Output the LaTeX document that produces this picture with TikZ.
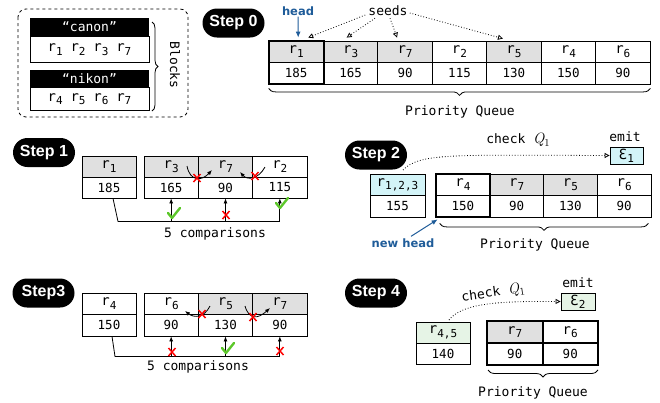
\documentclass[tikz,border=0pt]{standalone}
\usepackage{fontspec}
\setmonofont{DejaVu Sans Mono}
\setsansfont{DejaVu Sans}
\newfontfamily\stepfont{Liberation Sans}
\usetikzlibrary{arrows.meta,decorations.pathreplacing,calc}
\definecolor{cellgray}{HTML}{E0E0E0}
\definecolor{cellcyan}{HTML}{D3F4F8}
\definecolor{cellgreen}{HTML}{E6F4E6}
\definecolor{headblue}{HTML}{1F5C99}
\definecolor{okgreen}{HTML}{5CC72A}
\newcommand\rr[1]{{\fontsize{14}{16}\selectfont r}\raisebox{-0.5ex}{\fontsize{11}{12}\selectfont #1}}
\newcommand\epsub[1]{{\fontsize{14}{16}\selectfont Ɛ}\raisebox{-0.5ex}{\fontsize{11}{12}\selectfont #1}}
\newcommand\qone{{\rmfamily\itshape\fontsize{15}{16}\selectfont Q}\raisebox{-0.4ex}{\rmfamily\fontsize{10.5}{11}\selectfont 1}}
\begin{document}
\begin{tikzpicture}[x=1pt,y=-1pt,
  cell/.style={draw,line width=0.8pt,inner sep=0pt,font=\ttfamily\fontsize{12.5}{14}\selectfont},
  mono/.style={inner sep=1pt,font=\ttfamily\fontsize{13}{15}\selectfont},
  steppill/.style={fill=black,text=white,rounded corners=14.5pt,minimum height=29pt,minimum width=62pt,inner sep=0pt,font=\stepfont\bfseries\fontsize{16}{18}\selectfont},
  headlbl/.style={inner sep=1pt,text=headblue,font=\sffamily\bfseries\fontsize{11.5}{13}\selectfont},
  seedarrow/.style={dotted,line width=0.8pt,-{Triangle[open,length=5pt,width=5pt]}},
  bracestyle/.style={decorate,decoration={brace,amplitude=7pt},line width=0.8pt},
  cmparrow/.style={line width=0.8pt,-{Latex[length=5pt,width=4pt]}},
  redx/.pic={\draw[red,line width=1.5pt] (-3.5,-4)--(3.5,4) (-3.5,4)--(3.5,-4);},
  okcheck/.pic={\draw[okgreen,line width=2.4pt,line cap=round,line join=round] (-5,-1)--(-1,4)--(7,-6);}
]
\useasboundingbox (0,0) rectangle (660,402);

% ---------------- Blocks ----------------
\draw[dashed,line width=0.8pt,rounded corners=8pt] (18,9) rectangle (188,117);
\node[fill=black,text=white,minimum width=119pt,minimum height=18pt,inner sep=0pt,font=\ttfamily\fontsize{13}{15}\selectfont] (canonh) at (89.5,27) {“canon”};
\node[draw,line width=0.8pt,minimum width=119pt,minimum height=26pt,inner sep=0pt,anchor=north,font=\ttfamily\fontsize{13}{15}\selectfont] (canonb) at (canonh.south) {\rr{1} \rr{2} \rr{3} \rr{7}};
\node[fill=black,text=white,minimum width=119pt,minimum height=17pt,inner sep=0pt,font=\ttfamily\fontsize{13}{15}\selectfont] (nikonh) at (89.5,78.5) {“nikon”};
\node[draw,line width=0.8pt,minimum width=119pt,minimum height=23pt,inner sep=0pt,anchor=north,font=\ttfamily\fontsize{13}{15}\selectfont] (nikonb) at (nikonh.south) {\rr{4} \rr{5} \rr{6} \rr{7}};
\draw[decorate,decoration={brace,amplitude=6pt},line width=0.8pt] (152,22) -- (152,111);
\node[mono,rotate=-90] (blocks) at (175,65) {Blocks};

% ---------------- Step 0 ----------------
\node[steppill] (st0) at (233.5,23) {Step 0};
\foreach \i/\lab/\val/\fc [count=\k from 0] in {1/1/185/cellgray,2/3/165/cellgray,3/7/90/cellgray,4/2/115/white,5/5/130/cellgray,6/4/150/white,7/6/90/white}{
  \node[cell,fill=\fc,minimum width=54.43pt,minimum height=21.5pt] (s0t\i) at ({269+54.43*(\k+0.5)},51.75) {\rr{\lab}};
  \node[cell,minimum width=54.43pt,minimum height=21.5pt] (s0b\i) at ({269+54.43*(\k+0.5)},73.25) {\val};
}
\draw[line width=2pt] (s0t1.north west) rectangle (s0b1.south east);
\node[headlbl] (head) at (298,11) {head};
\draw[headblue,line width=1pt,-{Latex[length=6pt,width=5pt]}] (head.south) -- ($(s0t1.north)+(2,-3)$);
\node[mono] (seeds) at (388,11) {seeds};
\draw[seedarrow] ($(seeds.west)+(-2,4)$) -- ($(s0t1.north)+(12,-3)$);
\draw[seedarrow] ($(seeds.south)+(-13,1)$) -- ($(s0t2.north)+(-4,-3)$);
\draw[seedarrow] ($(seeds.south)+(2,1)$) -- ($(s0t3.north)+(-8,-3)$);
\draw[seedarrow] ($(seeds.east)+(1,2)$) -- ($(s0t5.north)+(-11,-2)$);
\draw[bracestyle] ($(s0b7.south east)+(0,4)$) -- ($(s0b1.south west)+(0,4)$);
\node[mono] (pq0) at (460,112) {Priority Queue};

% ---------------- Step 1 ----------------
\node[steppill] (st1) at (44,152.5) {Step 1};
\node[cell,fill=cellgray,minimum width=54pt,minimum height=21pt] (s1lt) at (109,166.5) {\rr{1}};
\node[cell,minimum width=54pt,minimum height=21pt] (s1lb) at (109,187.5) {185};
\foreach \i/\lab/\val/\fc [count=\k from 0] in {1/3/165/cellgray,2/7/90/cellgray,3/2/115/white}{
  \node[cell,fill=\fc,minimum width=54.33pt,minimum height=21pt] (s1t\i) at ({144+54.33*(\k+0.5)},166.5) {\rr{\lab}};
  \node[cell,minimum width=54.33pt,minimum height=21pt] (s1b\i) at ({144+54.33*(\k+0.5)},187.5) {\val};
}
\draw[cmparrow] (187,166) .. controls (190,182) and (202,181) .. (212,170);
\pic at (197,178) {redx};
\draw[cmparrow] (265,167) .. controls (258,180) and (247,180) .. (240,172);
\pic at (255,176) {redx};
\coordinate (c1) at ($(s1lb.south)+(9,23)$);
\draw[line width=0.8pt] ($(s1lb.south)+(4,0)$) -- (c1) -- (c1 -| s1b3.south);
\foreach \i in {1,2,3}{\draw[cmparrow] (s1b\i.south |- c1) -- (s1b\i.south);}
\pic at (173,214) {okcheck};
\pic at (226,215) {redx};
\pic at (281,204) {okcheck};
\node[mono] (cmp1) at (215,234) {5 comparisons};

% ---------------- Step 2 ----------------
\node[steppill] (st2) at (376,155) {Step 2};
\node[cell,fill=cellcyan,minimum width=55pt,minimum height=21.5pt] (s2lt) at (397.5,184.75) {\rr{1,2,3}};
\node[cell,minimum width=55pt,minimum height=21.5pt] (s2lb) at (397.5,206.25) {155};
\foreach \i/\lab/\val/\fc [count=\k from 0] in {1/4/150/white,2/7/90/cellgray,3/5/130/cellgray,4/6/90/white}{
  \node[cell,fill=\fc,minimum width=53.75pt,minimum height=21.5pt] (s2t\i) at ({436+53.75*(\k+0.5)},184.75) {\rr{\lab}};
  \node[cell,minimum width=53.75pt,minimum height=21.5pt] (s2b\i) at ({436+53.75*(\k+0.5)},206.25) {\val};
}
\draw[line width=2pt] (s2t1.north west) rectangle (s2b1.south east);
\node[mono] (emit1) at (625,137) {emit};
\node[draw,line width=0.8pt,fill=cellcyan,minimum width=33pt,minimum height=17pt,inner sep=0pt,font=\ttfamily] (eps1) at (626.5,155.5) {\epsub{1}};
\node[mono] (chk1) at (518,140) {check \qone};
\draw[seedarrow] (403,170) .. controls (420,153) and (450,155) .. (eps1.west);
\node[headlbl] (newhead) at (403,243) {new head};
\draw[headblue,line width=1pt,-{Latex[length=6pt,width=5pt]}] ($(newhead.north)+(8,-1)$) -- ($(s2b1.south west)+(2,2)$);
\draw[bracestyle] ($(s2b4.south east)+(-3,6)$) -- ($(s2b1.south west)+(4,6)$);
\node[mono] (pq2) at (535,245) {Priority Queue};

% ---------------- Step 3 ----------------
\node[steppill] (st3) at (43.5,293) {Step3};
\node[cell,minimum width=54pt,minimum height=21.5pt] (s3lt) at (109,303.75) {\rr{4}};
\node[cell,minimum width=54pt,minimum height=21.5pt] (s3lb) at (109,325.25) {150};
\foreach \i/\lab/\val/\fc [count=\k from 0] in {1/6/90/white,2/5/130/cellgray,3/7/90/cellgray}{
  \node[cell,fill=\fc,minimum width=54.33pt,minimum height=21.5pt] (s3t\i) at ({144+54.33*(\k+0.5)},303.75) {\rr{\lab}};
  \node[cell,minimum width=54.33pt,minimum height=21.5pt] (s3b\i) at ({144+54.33*(\k+0.5)},325.25) {\val};
}
\draw[cmparrow] (210,306) .. controls (204,318) and (194,318) .. (185,311);
\pic at (202,314) {redx};
\draw[cmparrow] (245,306) .. controls (249,320) and (258,319) .. (270,308);
\pic at (253,317) {redx};
\coordinate (c3) at ($(s3lb.south)+(6,20)$);
\draw[line width=0.8pt] ($(s3lb.south)+(3,0)$) -- (c3) -- (c3 -| s3b3.south);
\foreach \i in {1,2,3}{\draw[cmparrow] (s3b\i.south |- c3) -- (s3b\i.south);}
\pic at (172,352) {redx};
\pic at (227,349) {okcheck};
\pic at (280,351) {redx};
\node[mono] (cmp3) at (198,367) {5 comparisons};

% ---------------- Step 4 ----------------
\node[steppill] (st4) at (376,293) {Step 4};
\node[cell,fill=cellgreen,minimum width=54pt,minimum height=21pt] (s4lt) at (443,332.5) {\rr{4,5}};
\node[cell,minimum width=54pt,minimum height=21pt] (s4lb) at (443,353.5) {140};
\foreach \i/\lab/\val/\fc [count=\k from 0] in {1/7/90/cellgray,2/6/90/white}{
  \node[cell,fill=\fc,line width=2pt,minimum width=55.5pt,minimum height=22pt] (s4t\i) at ({487+55.5*(\k+0.5)},332) {\rr{\lab}};
  \node[cell,line width=2pt,minimum width=55.5pt,minimum height=22pt] (s4b\i) at ({487+55.5*(\k+0.5)},354) {\val};
}
\node[mono] (emit2) at (578,283) {emit};
\node[draw,line width=0.8pt,fill=cellgreen,minimum width=34pt,minimum height=17pt,inner sep=0pt,font=\ttfamily] (eps2) at (578,301.5) {\epsub{2}};
\node[mono,rotate=8] (chk2) at (493,293) {check \qone};
\draw[seedarrow] (449,320) .. controls (462,303) and (500,301) .. (eps2.west);
\draw[bracestyle] ($(s4b2.south east)+(-1,4)$) -- ($(s4b1.south west)+(2,4)$);
\node[mono] (pq4) at (533,393) {Priority Queue};
\end{tikzpicture}
\end{document}
